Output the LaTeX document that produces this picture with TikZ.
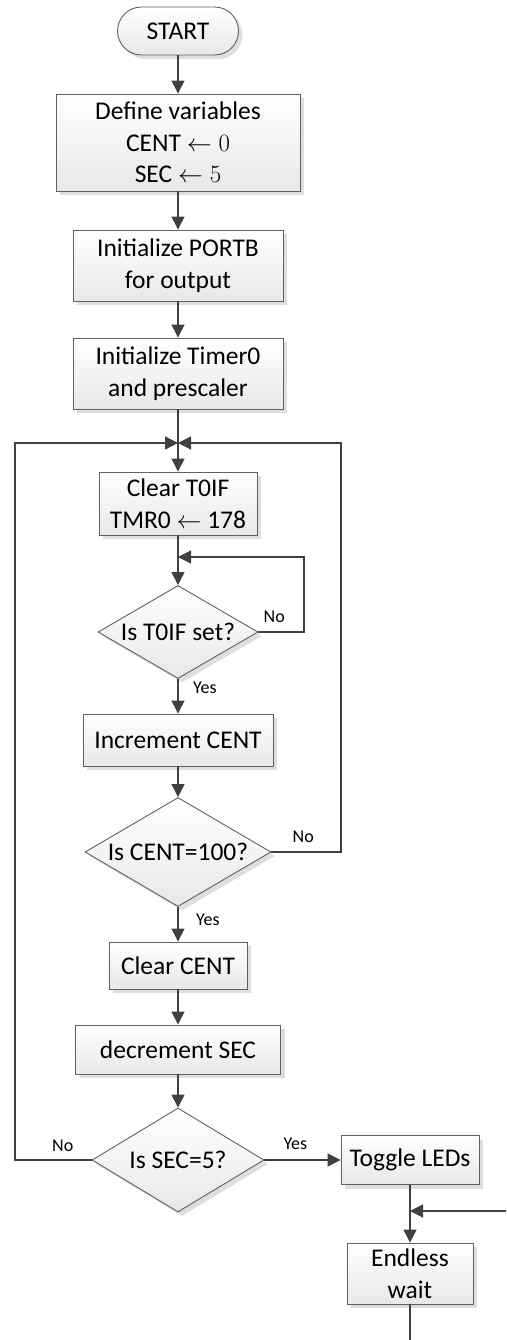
\documentclass[tikz,border=0pt]{standalone}
\usepackage{fontspec}
\setmainfont{Carlito}
\usetikzlibrary{arrows.meta,shapes.geometric,shadows}
\definecolor{linegray}{RGB}{64,64,64}
\definecolor{boxgray}{RGB}{96,96,96}
\tikzset{
  block/.style={draw=boxgray, line width=0.9pt, top color=white, bottom color=black!9,
    drop shadow={shadow xshift=4pt, shadow yshift=-4pt, fill=black!13, opacity=1},
    font=\fontsize{25.5}{31.5}\selectfont, align=center, inner sep=0pt},
  term/.style={block, rounded corners=24pt},
  decision/.style={block, diamond, aspect=1.72},
  flow/.style={draw=linegray, line width=1.3pt, -{Triangle[length=13pt,width=13pt]}},
  link/.style={draw=linegray, line width=1.3pt},
  lbl/.style={font=\fontsize{18}{20}\selectfont, inner sep=0pt}
}
\begin{document}
\begin{tikzpicture}[x=1pt,y=-1pt]
  \useasboundingbox (0,0) rectangle (506,1340);
  \node[term, minimum width=121pt, minimum height=48pt] (start) at (178,31) {START};
  \node[block, minimum width=244pt, minimum height=97pt] (define) at (178,142.5)
    {Define variables\\CENT $\leftarrow 0$\\SEC $\leftarrow 5$};
  \node[block, minimum width=210pt, minimum height=71pt] (portb) at (178,265.5)
    {Initialize PORTB\\for output};
  \node[block, minimum width=210pt, minimum height=71pt] (timer) at (178,373.5)
    {Initialize Timer0\\and prescaler};
  \node[block, minimum width=158pt, minimum height=63pt] (clear) at (178,503.5)
    {Clear T0IF\\TMR0 $\leftarrow$ 178};
  \node[decision, minimum width=160pt, minimum height=93pt] (test1) at (178,632) {Is T0IF set?};
  \node[block, minimum width=190pt, minimum height=52pt] (inc) at (178,740) {Increment CENT};
  \node[decision, minimum width=186pt, minimum height=109pt] (test2) at (178,852) {Is CENT=100?};
  \node[block, minimum width=138pt, minimum height=47pt] (clrcent) at (178,965.5) {Clear CENT};
  \node[block, minimum width=205pt, minimum height=49pt] (dec) at (178,1049.5) {decrement SEC};
  \node[decision, minimum width=172pt, minimum height=104pt] (test3) at (178,1160) {Is SEC=5?};
  \node[block, minimum width=138pt, minimum height=49pt] (toggle) at (410,1160) {Toggle LEDs};
  \node[block, minimum width=126pt, minimum height=61pt] (wait) at (410,1273.5) {Endless\\wait};

  \coordinate (j1) at (178,443);
  \coordinate (j2) at (178,557);
  \coordinate (r1) at (304,557);
  \coordinate (r2) at (341,443);
  \coordinate (l3) at (15,443);
  \coordinate (e1) at (506,1211);
  \coordinate (e2) at (410,1340);

  \draw[flow] (start) -- (define);
  \draw[flow] (define) -- (portb);
  \draw[flow] (portb) -- (timer);
  \draw[link] (timer) -- (j1);
  \draw[flow] (j1) -- (clear);
  \draw[link] (clear) -- (j2);
  \draw[flow] (j2) -- (test1);
  \draw[flow] (test1.east) -| (r1) -- (j2);
  \draw[flow] (test1) -- (inc);
  \draw[flow] (inc) -- (test2);
  \draw[flow] (test2.east) -| (r2) -- (j1);
  \draw[flow] (test2) -- (clrcent);
  \draw[flow] (clrcent) -- (dec);
  \draw[flow] (dec) -- (test3);
  \draw[flow] (test3.west) -| (l3) -- (j1);
  \draw[flow] (test3) -- (toggle);
  \draw[flow] (toggle) -- (wait);
  \draw[flow] (e1) -- (e1 -| toggle.south);
  \draw[link] (wait) -- (e2);

  \node[lbl, anchor=base west] (no1) at ([xshift=5pt,yshift=10pt]test1.east) {No};
  \node[lbl, anchor=base west] (yes1) at ([xshift=15pt,yshift=-15pt]test1.south) {Yes};
  \node[lbl, anchor=base west] (no2) at ([xshift=21pt,yshift=10pt]test2.east) {No};
  \node[lbl, anchor=base west] (yes2) at ([xshift=18pt,yshift=-19pt]test2.south) {Yes};
  \node[lbl, anchor=base east] (no3) at ([xshift=-18pt,yshift=9pt]test3.west) {No};
  \node[lbl, anchor=base west] (yes3) at ([xshift=19pt,yshift=11pt]test3.east) {Yes};
\end{tikzpicture}
\end{document}
